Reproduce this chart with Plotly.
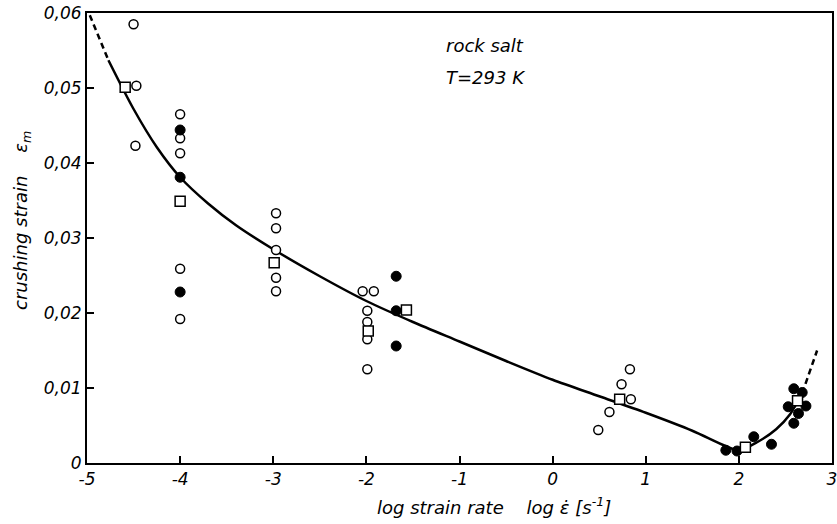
import plotly.graph_objects as go

# ---- data ----
open_x = [-4.50, -4.47, -4.48,
          -4.0, -4.0, -4.0, -4.0, -4.0,
          -2.97, -2.97, -2.97, -2.97, -2.97,
          -2.04, -1.92, -1.99, -1.99, -1.99, -1.99,
          0.49, 0.61, 0.84, 0.74, 0.83]
open_y = [0.0585, 0.0503, 0.0423,
          0.0465, 0.0433, 0.0413, 0.0259, 0.0192,
          0.0333, 0.0313, 0.0284, 0.0247, 0.0229,
          0.0229, 0.0229, 0.0203, 0.0188, 0.0165, 0.0125,
          0.0044, 0.0068, 0.0085, 0.0105, 0.0125]

filled_x = [-4.0, -4.0, -4.0,
            -1.68, -1.68, -1.68,
            1.86, 1.98, 2.16, 2.35, 2.59, 2.68, 2.53, 2.72, 2.64, 2.59]
filled_y = [0.0444, 0.0381, 0.0228,
            0.0249, 0.0203, 0.0156,
            0.0017, 0.0016, 0.0035, 0.0025, 0.0099, 0.0094, 0.0075, 0.0076, 0.0066, 0.0053]

square_x = [-4.59, -4.0, -2.99, -1.98, -1.57, 0.72, 2.07, 2.63]
square_y = [0.0501, 0.0349, 0.0267, 0.0176, 0.0204, 0.0085, 0.0021, 0.0083]

curve_x = [-4.77, -4.5, -4.25, -4.0, -3.7, -3.4, -3.0, -2.5, -2.0, -1.5, -1.0, -0.5,
           0.0, 0.5, 1.0, 1.5, 1.85, 2.0, 2.2, 2.4, 2.55, 2.68]
curve_y = [0.0537, 0.0472, 0.0421, 0.0381, 0.0346, 0.0317, 0.0285, 0.0249, 0.0216,
           0.0188, 0.0162, 0.0136, 0.0111, 0.0089, 0.0067, 0.0043, 0.0023, 0.0017,
           0.0028, 0.0045, 0.0065, 0.0093]

dash_left_x = [-4.97, -4.77]
dash_left_y = [0.0597, 0.0537]
dash_right_x = [2.68, 2.84]
dash_right_y = [0.0093, 0.0150]

x_ticks = [-5, -4, -3, -2, -1, 0, 1, 2, 3]
x_tick_labels = ["-5", "-4", "-3", "-2", "-1", "0", "1", "2", "3"]
y_ticks = [0, 0.01, 0.02, 0.03, 0.04, 0.05, 0.06]
y_tick_labels = ["0", "0,01", "0,02", "0,03", "0,04", "0,05", "0,06"]

FONT = "DejaVu Sans"
L, R, T, B = 87, 832, 13, 463
PW, PH = R - L, B - T

fig = go.Figure()

fig.add_trace(go.Scatter(x=curve_x, y=curve_y, mode="lines",
                         line=dict(color="black", width=2.5, shape="spline", smoothing=0.8),
                         hoverinfo="skip", showlegend=False))
fig.add_trace(go.Scatter(x=dash_left_x, y=dash_left_y, mode="lines",
                         line=dict(color="black", width=2.5, dash="6px,4px"),
                         showlegend=False))
fig.add_trace(go.Scatter(x=dash_right_x, y=dash_right_y, mode="lines",
                         line=dict(color="black", width=2.5, dash="6px,4px"),
                         showlegend=False))

fig.add_trace(go.Scatter(x=open_x, y=open_y, mode="markers",
                         marker=dict(symbol="circle", size=9, color="white",
                                     line=dict(color="black", width=1.5)),
                         showlegend=False))
fig.add_trace(go.Scatter(x=filled_x, y=filled_y, mode="markers",
                         marker=dict(symbol="circle", size=10, color="black",
                                     line=dict(color="black", width=1)),
                         showlegend=False))
fig.add_trace(go.Scatter(x=square_x, y=square_y, mode="markers",
                         marker=dict(symbol="square", size=10, color="white",
                                     line=dict(color="black", width=1.5)),
                         showlegend=False))

fig.update_xaxes(range=[-5, 3], tickvals=x_ticks, ticktext=x_tick_labels,
                 ticks="inside", ticklen=7, tickwidth=1.5, tickcolor="black",
                 showline=True, linecolor="black", linewidth=2, mirror=True,
                 showgrid=False, zeroline=False, automargin=False,
                 ticklabeloverflow="allow",
                 tickfont=dict(family=FONT, size=17, color="black", style="italic"))
fig.update_yaxes(range=[0, 0.06], tickvals=y_ticks, ticktext=y_tick_labels,
                 ticks="inside", ticklen=7, tickwidth=1.5, tickcolor="black",
                 showline=True, linecolor="black", linewidth=2, mirror=True,
                 showgrid=False, zeroline=False, automargin=False,
                 ticklabeloverflow="allow",
                 tickfont=dict(family=FONT, size=17, color="black", style="italic"))

def px_to_paper(px, py):
    return (px - L) / PW, 1 - (py - T) / PH

annots = [
    ("rock salt", 485, 45, 0, 18),
    ("T=293 K", 485, 77, 0, 18),
    ("log strain rate    log ε\u0307 [s<sup>-1</sup>]", 494, 506, 0, 18),
    ("crushing strain    ε<sub>m</sub>", 22, 221, -90, 18),
]
for text, px, py, ang, fs in annots:
    ax, ay = px_to_paper(px, py)
    fig.add_annotation(text=text, x=ax, y=ay, xref="paper", yref="paper",
                       xanchor="center", yanchor="middle",
                       showarrow=False, textangle=ang,
                       font=dict(family=FONT, size=fs, color="black", style="italic"))

fig.update_layout(width=837, height=524,
                  margin=dict(l=L, r=837 - R, t=T, b=524 - B, autoexpand=False),
                  paper_bgcolor="white", plot_bgcolor="white",
                  showlegend=False)

fig.write_html("out.html", config={"displayModeBar": False},
               post_script="document.body.style.margin='0px';document.body.style.overflow='hidden';")
